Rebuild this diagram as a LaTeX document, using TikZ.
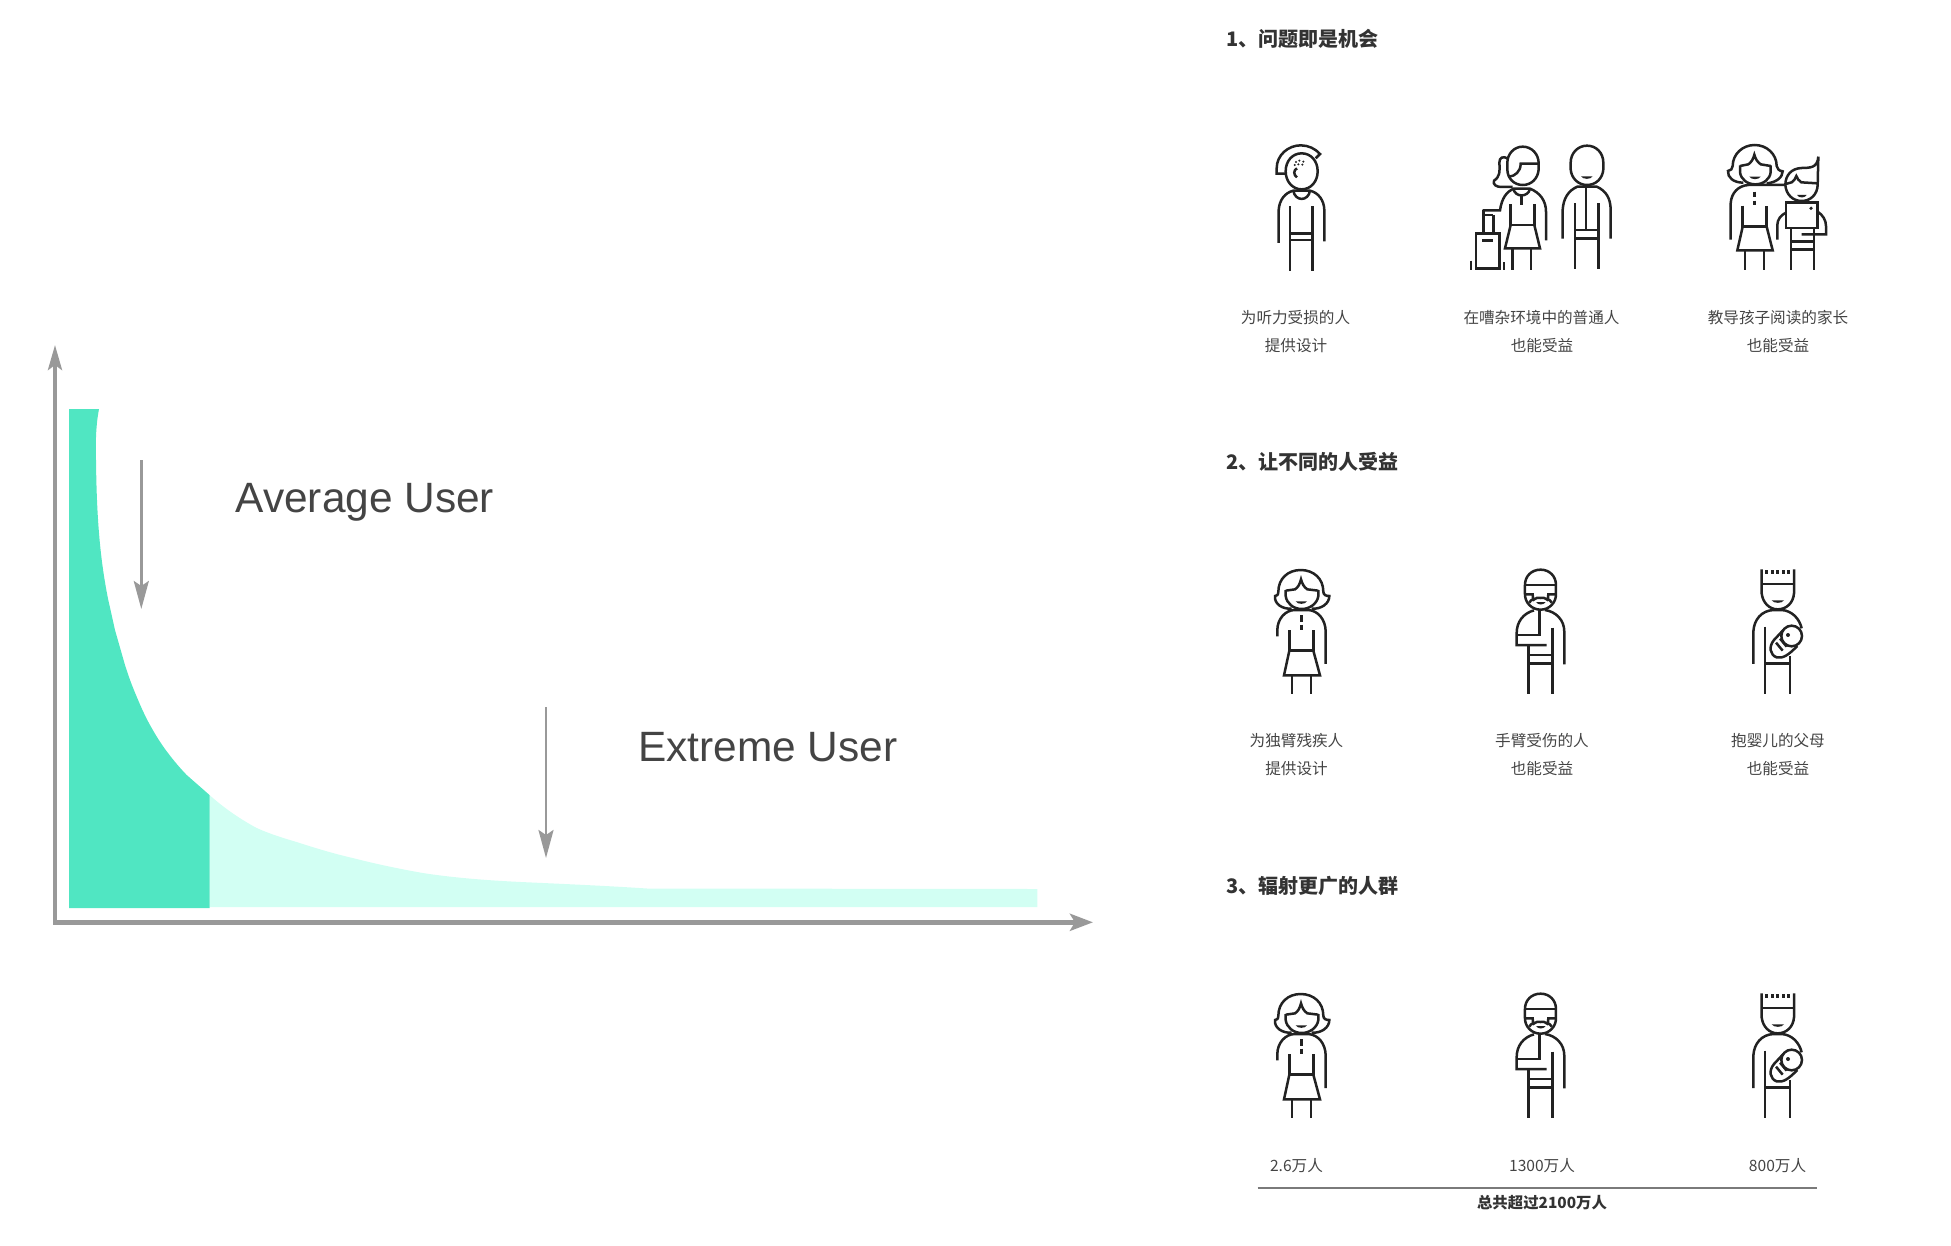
\documentclass[tikz,border=0pt]{standalone}
\usepackage{fontspec}
\setmainfont{Liberation Sans}
\newfontfamily\cjkfont{Noto Sans CJK SC}
\usetikzlibrary{arrows.meta}
\definecolor{tealdark}{HTML}{50E6C2}
\definecolor{teallight}{HTML}{D2FFF3}
\definecolor{axisgray}{HTML}{999999}
\definecolor{inkblack}{HTML}{222222}
\definecolor{headink}{HTML}{333333}
\definecolor{chartink}{HTML}{444444}
\definecolor{labelink}{HTML}{444444}
\tikzset{
  zoomed/.style={x=0.3333pt,y=-0.3333pt},
  ico/.style={draw=inkblack,line width=2.5pt,line cap=butt,line join=miter,fill=none},
  yaxisline/.style={draw=axisgray,line width=4pt,-{Stealth[length=25pt,width=14pt,inset=5pt]}},
  xaxisline/.style={draw=axisgray,line width=5.5pt,-{Stealth[length=23pt,width=17pt,inset=5pt]}},
  pointer/.style={draw=axisgray,line width=2.8pt,-{Stealth[length=28pt,width=15pt,inset=5pt]}},
  chartlabel/.style={text=chartink,font=\fontsize{42.4}{48}\selectfont,anchor=base west,inner sep=0pt},
  heading/.style={text=headink,font=\cjkfont\bfseries\fontsize{20}{24}\selectfont,anchor=west,inner sep=0pt},
  caption/.style={text=labelink,font=\cjkfont\fontsize{15.6}{20}\selectfont,anchor=center,inner sep=0pt},
  total/.style={text=headink,font=\cjkfont\bfseries\fontsize{15.4}{20}\selectfont,anchor=center,inner sep=0pt},
}
% smile in zoomed coordinates
\newcommand{\smileat}[3]{\fill[inkblack] (#1,#3) -- (#2,#3) .. controls (#2-6,#3+10) and (#1+6,#3+10) .. (#1,#3) -- cycle;}
% woman, drawn in the coordinates of the crop at (1250,560)
\newcommand{\womanicon}{%
  \draw[ico] (125,146) .. controls (95,148) and (72,130) .. (75,108) .. controls (80,108) and (85,105) .. (85,95)
     .. controls (85,55) and (115,30) .. (152,30) .. controls (190,30) and (220,55) .. (220,95)
     .. controls (220,105) and (228,108) .. (238,108) .. controls (238,130) and (215,148) .. (185,146);
  \draw[ico] (107,92) -- (135,88) .. controls (145,82) and (150,70) .. (153,58) .. controls (156,70) and (162,82) .. (172,88) -- (205,92);
  \draw[ico] (107,90) -- (107,108) .. controls (110,130) and (130,147) .. (155,147) .. controls (180,147) and (202,130) .. (205,108) -- (205,90);
  \smileat{137}{171}{124}
  \draw[ico] (82,229) -- (82,210) .. controls (82,178) and (105,150) .. (135,150) -- (175,150) .. controls (205,152) and (227,180) .. (227,215) -- (227,312);
  \draw[ico] (155,166) -- (155,185) (155,194) -- (155,209);
  \draw[ico] (118,210) -- (118,272) -- (190,272) -- (190,210);
  \draw[ico,line join=miter] (118,272) -- (102,346) -- (210,346) -- (190,272);
  \draw[ico] (126,346) -- (126,403) (183,346) -- (183,403);
}
% man with a slung arm, crop at (1250,560)
\newcommand{\slingicon}{%
  \draw[ico] (825,103) -- (825,75) .. controls (825,48) and (845,29) .. (872,29) .. controls (898,29) and (918,48) .. (918,75) -- (918,103)
     .. controls (918,128) and (898,149) .. (872,149) .. controls (845,149) and (825,128) .. (825,103) -- cycle;
  \draw[ico] (825,75) -- (918,75);
  \draw[ico] (825,103) -- (848,103) .. controls (848,110) and (849,115) .. (851,119) .. controls (858,113) and (865,112) .. (871,114) .. controls (878,112) and (885,113) .. (892,119) .. controls (894,115) and (895,110) .. (895,103) -- (918,103);
  \draw[ico] (838,128) .. controls (845,116) and (850,118) .. (852,120) (905,128) .. controls (898,116) and (893,118) .. (891,120);
  \smileat{858}{887}{126}
  \draw[ico] (885,150) .. controls (918,155) and (943,180) .. (943,215) -- (943,313);
  \draw[ico] (852,151) .. controls (820,160) and (800,185) .. (800,220) -- (800,255) -- (890,255);
  \draw[ico] (800,225) -- (868,225) -- (868,150);
  \draw[ico] (908,203) -- (908,403) (836,255) -- (836,403);
  \draw[ico] (836,285) -- (908,285) (836,310) -- (908,310);
}
% father with a baby, crop at (1720,560)
\newcommand{\fathericon}{%
  \draw[ico] (125,28) -- (125,100) .. controls (128,128) and (148,148) .. (173,148) .. controls (200,148) and (220,128) .. (222,100) -- (222,28);
  \draw[ico] (125,72) -- (222,72);
  \draw[ico] (140,30) -- (140,43) (157,30) -- (157,43) (173,30) -- (173,43) (190,30) -- (190,43) (205,30) -- (205,43);
  \smileat{155}{192}{121}
  \draw[ico] (100,312) -- (100,215) .. controls (102,178) and (125,152) .. (160,150) -- (185,150) .. controls (215,152) and (238,175) .. (245,205);
  \draw[ico] (135,200) -- (135,403) (210,288) -- (210,403);
  \draw[ico] (135,310) -- (210,310);
  \draw[ico] (190,210) -- (162,240) .. controls (145,260) and (150,285) .. (170,292) .. controls (190,296) and (205,285) .. (232,258);
  \draw[ico] (215,228) circle [radius=31];
  \fill[inkblack] (204,225) circle [radius=6];
  \draw[ico] (168,248) -- (188,272) (180,236) -- (200,260);
}
\begin{document}
\begin{tikzpicture}[x=1pt,y=-1pt]
\useasboundingbox (0,0) rectangle (1951,1245);

% ---------- chart ----------
\fill[teallight] (209.5,795) .. controls (224,808) and (240,819) .. (256.7,828)
   .. controls (270,834) and (283,838) .. (296.6,842) .. controls (315,848) and (335,854) .. (352.7,858)
   .. controls (376,864) and (400,869) .. (422.8,873) .. controls (455,878) and (490,880.5) .. (521,882)
   .. controls (565,884) and (610,886) .. (647,888.5) -- (1037.4,889) -- (1037.4,907) -- (209.5,907) -- cycle;
\fill[tealdark] (69,409) -- (99,409) .. controls (96,425) and (95.5,440) .. (96,460)
   .. controls (96.5,500) and (98,550) .. (108.3,600) -- (115,630) -- (125,665)
   .. controls (129,678) and (133,688) .. (136.7,696.7) .. controls (141,707) and (145,716) .. (150,725)
   .. controls (155,734) and (161,744) .. (168,753) .. controls (174,761) and (180,768) .. (186.7,775)
   -- (209.5,795) -- (209.5,908) -- (69,908) -- cycle;

\coordinate (ytip) at (55,345);
\coordinate (ystart) at (55,924);
\coordinate (xtip) at (1093,922.3);
\coordinate (xstart) at (53,922.3);
\draw[yaxisline] (ystart) -- (ytip);
\draw[xaxisline] (xstart) -- (xtip);

\coordinate (a1s) at (141.3,460);
\coordinate (a1e) at (141.3,609);
\coordinate (a2s) at (546,707);
\coordinate (a2e) at (546,858);
\draw[pointer] (a1s) -- (a1e);
\draw[pointer] (a2s) -- (a2e);
\node[chartlabel] (avg) at (235.5,512) {Average User};
\node[chartlabel] (ext) at (638,761) {Extreme User};

% ---------- headings ----------
\node[heading] (h1) at (1226,38.5) {1、问题即是机会};
\node[heading] (h2) at (1226,462) {2、让不同的人受益};
\node[heading] (h3) at (1226,886) {3、辐射更广的人群};

% ---------- row 1 captions ----------
\node[caption] (c11) at (1295.5,317.5) {为听力受损的人};
\node[caption] (c12) at (1296,345.5) {提供设计};
\node[caption] (c21) at (1541.5,317.5) {在嘈杂环境中的普通人};
\node[caption] (c22) at (1542,345.5) {也能受益};
\node[caption] (c31) at (1778,317.5) {教导孩子阅读的家长};
\node[caption] (c32) at (1778,345.5) {也能受益};
% ---------- row 2 captions ----------
\node[caption] (d11) at (1296.5,741) {为独臂残疾人};
\node[caption] (d12) at (1296.5,769) {提供设计};
\node[caption] (d21) at (1542,741) {手臂受伤的人};
\node[caption] (d22) at (1542,769) {也能受益};
\node[caption] (d31) at (1778,741) {抱婴儿的父母};
\node[caption] (d32) at (1778,769) {也能受益};
% ---------- row 3 captions ----------
\node[caption] (e1) at (1296.5,1166) {2.6万人};
\node[caption] (e2) at (1542,1166) {1300万人};
\node[caption] (e3) at (1777.5,1166) {800万人};
\coordinate (ruleL) at (1257.5,1188);
\coordinate (ruleR) at (1817,1188);
\draw[draw=axisgray!80!black,line width=1.4pt] (ruleL) -- (ruleR);
\node[total] (tot) at (1542,1203) {总共超过2100万人};

% ---------- row 1 icons ----------
\begin{scope}[shift={(1240,130)},zoomed]
  \draw[ico] (185,70) .. controls (212,70) and (233,92) .. (233,124) .. controls (233,155) and (212,178) .. (185,178) .. controls (158,178) and (137,155) .. (137,124) .. controls (137,92) and (158,70) .. (185,70) -- cycle;
  \draw[ico] (136,131) -- (110,131) -- (110,115) .. controls (110,75) and (145,46) .. (182,46) .. controls (205,46) and (226,56) .. (240,72) -- (227,85);
  \draw[ico] (171,115) .. controls (160,120) and (160,135) .. (171,142);
  \fill[inkblack] (168,96) circle [radius=3.5] (178,92) circle [radius=3.5] (190,95) circle [radius=3.5] (164,105) circle [radius=3.5] (175,103) circle [radius=3.5] (187,104) circle [radius=3.5];
  \draw[ico] (116,339) -- (116,240) .. controls (118,210) and (135,188) .. (160,182) -- (210,182) .. controls (235,188) and (252,210) .. (253,240) -- (253,334);
  \draw[ico] (160,182) .. controls (165,215) and (205,215) .. (210,182);
  \draw[ico] (150,229) -- (150,422) (218,229) -- (218,422);
  \draw[ico] (150,310) -- (218,310) (150,330) -- (218,330);
\end{scope}
\begin{scope}[shift={(1450,130)},zoomed]
  % woman with suitcase
  \draw[ico] (218,50) .. controls (245,50) and (266,72) .. (266,100) -- (266,118) .. controls (264,145) and (245,165) .. (218,165) .. controls (192,165) and (172,145) .. (172,118) -- (172,98) .. controls (172,72) and (192,50) .. (218,50) -- cycle;
  \draw[ico] (266,101) -- (212,101) .. controls (212,125) and (195,138) .. (178,140);
  \draw[ico] (172,85) .. controls (160,78) and (148,82) .. (148,98) .. controls (150,125) and (150,140) .. (132,152) .. controls (128,165) and (140,171) .. (155,171) -- (188,171);
  \draw[ico] (98,241) -- (150,241) .. controls (155,205) and (170,185) .. (190,176) -- (240,176) .. controls (270,188) and (288,212) .. (288,245) -- (288,331);
  \draw[ico] (190,176) .. controls (195,203) and (235,203) .. (240,176);
  \draw[ico] (215,198) -- (215,226);
  \draw[ico] (182,223) -- (182,285) -- (253,285) -- (253,223);
  \draw[ico] (182,285) -- (165,355) -- (270,355) -- (253,285);
  \draw[ico] (188,355) -- (188,421) (243,355) -- (243,421);
  \draw[ico] (100,241) -- (100,310) (130,255) -- (130,310) (100,255) -- (130,255);
  \draw[ico] (78,311) rectangle (148,415);
  \draw[ico] (97,332) -- (130,332);
  \draw[ico] (63,392) -- (63,419) (162,397) -- (162,419);
  % man
  \draw[ico] (411,47) .. controls (440,47) and (460,70) .. (460,98) -- (460,118) .. controls (458,145) and (438,165) .. (411,165) .. controls (385,165) and (364,145) .. (362,118) -- (362,98) .. controls (362,70) and (383,47) .. (411,47) -- cycle;
  \smileat{393}{428}{139}
  \draw[ico] (338,326) -- (338,240) .. controls (340,205) and (355,182) .. (382,170) -- (440,170) .. controls (468,182) and (482,205) .. (482,240) -- (482,326);
  \draw[ico] (408,170) -- (408,300);
  \draw[ico] (375,220) -- (375,417) (445,220) -- (445,417);
  \draw[ico] (375,300) -- (445,300) (375,325) -- (445,325);
\end{scope}
\begin{scope}[shift={(1720,140)},zoomed]
  % mother
  \draw[ico] (70,128) .. controls (40,128) and (22,112) .. (24,93) .. controls (32,92) and (38,86) .. (38,78)
     .. controls (38,42) and (68,15) .. (104,15) .. controls (140,15) and (170,42) .. (170,78)
     .. controls (170,86) and (178,93) .. (188,94) .. controls (188,112) and (168,128) .. (140,130);
  \draw[ico] (60,78) -- (85,73) .. controls (95,66) and (100,56) .. (103,44) .. controls (106,56) and (112,66) .. (122,73) -- (152,78);
  \draw[ico] (60,76) -- (60,96) .. controls (62,118) and (82,133) .. (106,133) .. controls (130,133) and (150,118) .. (152,96) -- (152,76);
  \smileat{88}{122}{110}
  \draw[ico] (32,299) -- (32,190) .. controls (34,158) and (55,137) .. (85,135) -- (195,135);
  \draw[ico] (103,155) -- (103,172) (103,182) -- (103,196);
  \draw[ico] (68,197) -- (68,260) -- (140,260) -- (140,197);
  \draw[ico] (68,260) -- (52,331) -- (158,331) -- (140,260);
  \draw[ico] (75,331) -- (75,389) (132,331) -- (132,389);
  % child
  \draw[ico] (196,135) .. controls (196,105) and (215,85) .. (245,84) .. controls (270,83) and (292,85) .. (295,50) -- (293,135);
  \draw[ico] (197,132) -- (215,127) .. controls (222,122) and (227,115) .. (229,108) .. controls (232,116) and (236,122) .. (244,127) -- (292,130);
  \draw[ico] (196,135) .. controls (198,163) and (218,183) .. (245,183) .. controls (272,183) and (292,163) .. (293,135);
  \smileat{231}{260}{165}
  \draw[ico] (198,188) rectangle (293,264);
  \fill[inkblack] (273,205) circle [radius=5.5];
  \draw[ico] (172,299) -- (172,255) .. controls (172,240) and (182,225) .. (198,218);
  \draw[ico] (293,215) .. controls (308,225) and (318,240) .. (318,258) -- (318,283) -- (245,283);
  \draw[ico] (213,264) -- (213,389) (282,264) -- (282,389);
  \draw[ico] (213,305) -- (282,305) (213,328) -- (282,328);
\end{scope}

% ---------- row 2 icons ----------
\begin{scope}[shift={(1250,560)},zoomed]
  \womanicon \slingicon
\end{scope}
\begin{scope}[shift={(1720,560)},zoomed]
  \fathericon
\end{scope}
% ---------- row 3 icons ----------
\begin{scope}[shift={(1250,984)},zoomed]
  \womanicon \slingicon
\end{scope}
\begin{scope}[shift={(1720,984)},zoomed]
  \fathericon
\end{scope}
\end{tikzpicture}
\end{document}
